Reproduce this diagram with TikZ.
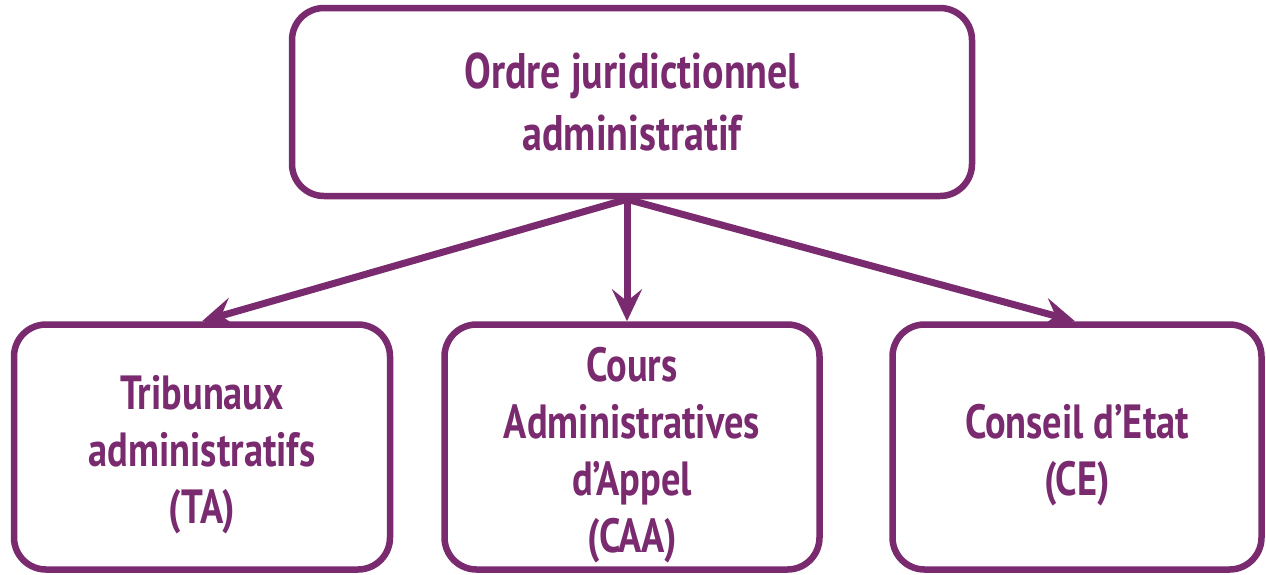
\documentclass[tikz,border=0pt]{standalone}
\usepackage{fontspec}
\newfontfamily\boxfont[FakeStretch=0.8]{PT Sans}
\usetikzlibrary{arrows.meta}
\definecolor{plum}{HTML}{7A2A6E}
\newcommand{\lowstrut}{\rule{0pt}{50pt}}
\begin{document}
\begin{tikzpicture}[x=1pt,y=-1pt,
  box/.style={draw=plum, line width=6.5pt, fill=white, rounded corners=32pt, align=center,
    text=plum, font=\boxfont\bfseries\fontsize{48}{57}\selectfont, inner sep=0pt},
  link/.style={draw=plum, line width=7pt, -{Stealth[length=32pt,width=30pt,inset=12pt]}}]
\useasboundingbox (0,0) rectangle (1266,574);
\node[box, minimum width=680pt, minimum height=188pt, font=\boxfont\bfseries\fontsize{50}{62}\selectfont] (top) at (632,102) {Ordre juridictionnel\\administratif};
\node[box, minimum width=376pt, minimum height=245pt] (ta) at (202,447) {\lowstrut Tribunaux\\administratifs\\(TA)};
\node[box, minimum width=375pt, minimum height=245pt] (caa) at (632,447) {\lowstrut Cours\\Administratives\\d’Appel\\(CAA)};
\node[box, minimum width=369pt, minimum height=245pt] (ce) at (1077,447) {\lowstrut Conseil d’Etat\\(CE)};
\coordinate (src) at ([xshift=-5pt]top.south);
\draw[link] (src) -- (ta.north);
\draw[link] (src) -- ([xshift=-5pt]caa.north);
\draw[link] (src) -- ([xshift=-2pt]ce.north);
\end{tikzpicture}
\end{document}
